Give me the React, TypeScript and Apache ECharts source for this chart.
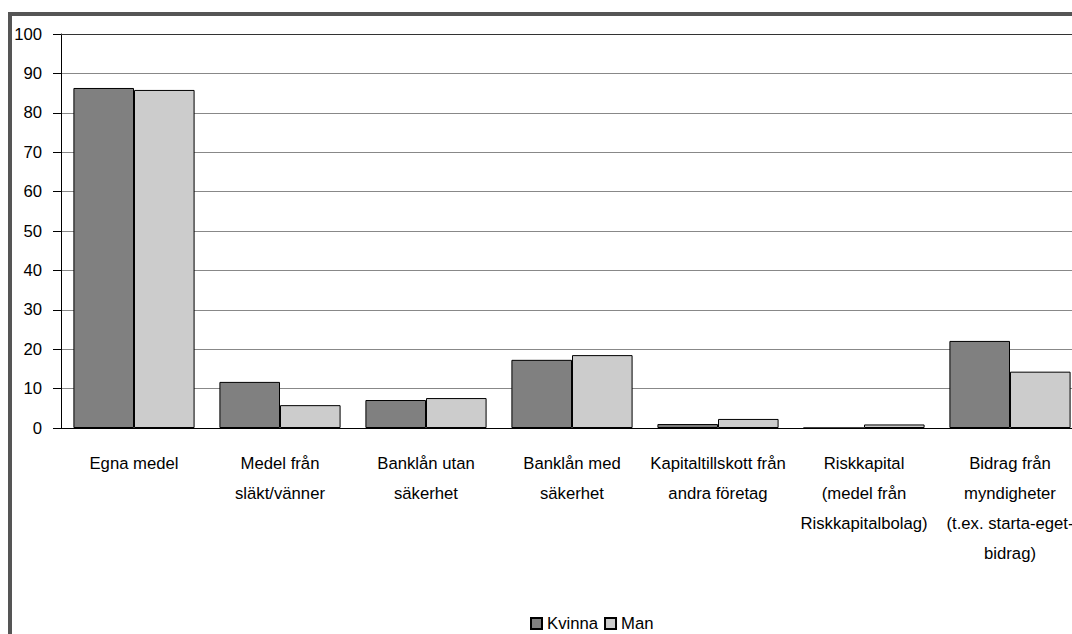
import React, { useEffect, useRef } from "react";
import * as echarts from "echarts";

const categories = [
  "Egna medel",
  "Medel från\nsläkt/vänner",
  "Banklån utan\nsäkerhet",
  "Banklån med\nsäkerhet",
  "Kapitaltillskott från\nandra företag",
  "Riskkapital\n(medel från\nRiskkapitalbolag)",
  "Bidrag från\nmyndigheter\n(t.ex. starta-eget-\nbidrag)",
];
const kvinna = [86.3, 11.7, 7.1, 17.3, 1.0, 0, 22.1];
const man = [85.8, 5.8, 7.6, 18.5, 2.3, 0.9, 14.3];
const seriesNames = ["Kvinna", "Man"];

export default function App() {
  const ref = useRef<HTMLDivElement>(null);
  useEffect(() => {
    if (!ref.current) return;
    const chart = echarts.init(ref.current, null, { renderer: "svg" });
    const font = "'Liberation Sans', Arial, sans-serif";
    const fs = 16.7;
    chart.setOption({
      animation: false,
      backgroundColor: "#ffffff",
      textStyle: { fontFamily: font },
      graphic: [
        {
          type: "rect",
          z: 100,
          shape: { x: 10, y: 14, width: 1300, height: 1000 },
          style: { fill: "none", stroke: "#555555", lineWidth: 4 },
        },
      ],
      legend: {
        left: 525,
        top: 610,
        itemWidth: 11,
        itemHeight: 11,
        itemGap: 6,
        icon: "rect",
        data: seriesNames,
        textStyle: { fontSize: fs, color: "#000", fontFamily: font },
      },
      grid: { left: 61, top: 34, width: 1022, height: 394 },
      xAxis: [
        {
          type: "category",
          data: categories,
          axisLine: { show: true, lineStyle: { color: "#000", width: 1 } },
          axisTick: { show: false },
          axisLabel: {
            interval: 0,
            fontSize: fs,
            color: "#000",
            lineHeight: 30,
            margin: 20,
            fontFamily: font,
          },
        },
        {
          type: "category",
          position: "top",
          data: categories,
          axisLine: { show: true, lineStyle: { color: "#333", width: 1 } },
          axisTick: { show: false },
          axisLabel: { show: false },
        },
      ],
      yAxis: {
        type: "value",
        min: 0,
        max: 100,
        interval: 10,
        axisLine: { show: true, lineStyle: { color: "#000", width: 1 } },
        axisTick: { show: true, length: 8, inside: false, lineStyle: { color: "#000" } },
        axisLabel: { fontSize: fs, color: "#000", margin: 19, fontFamily: font },
        splitLine: { show: true, lineStyle: { color: "#888888", width: 1 } },
      },
      series: [
        {
          name: seriesNames[0],
          type: "bar",
          data: kvinna,
          barGap: "0%",
          barCategoryGap: "17%",
          itemStyle: { color: "#808080", borderColor: "#000", borderWidth: 1 },
        },
        {
          name: seriesNames[1],
          type: "bar",
          data: man,
          barGap: "0%",
          barCategoryGap: "17%",
          itemStyle: { color: "#cccccc", borderColor: "#000", borderWidth: 1 },
        },
      ],
    });
    return () => chart.dispose();
  }, []);
  return (
    <div
      style={{
        position: "fixed",
        left: 0,
        top: 0,
        width: 1072,
        height: 634,
        overflow: "hidden",
        background: "#fff",
      }}
    >
      <div ref={ref} style={{ position: "absolute", left: 0, top: 0, width: 1100, height: 660 }} />
    </div>
  );
}
